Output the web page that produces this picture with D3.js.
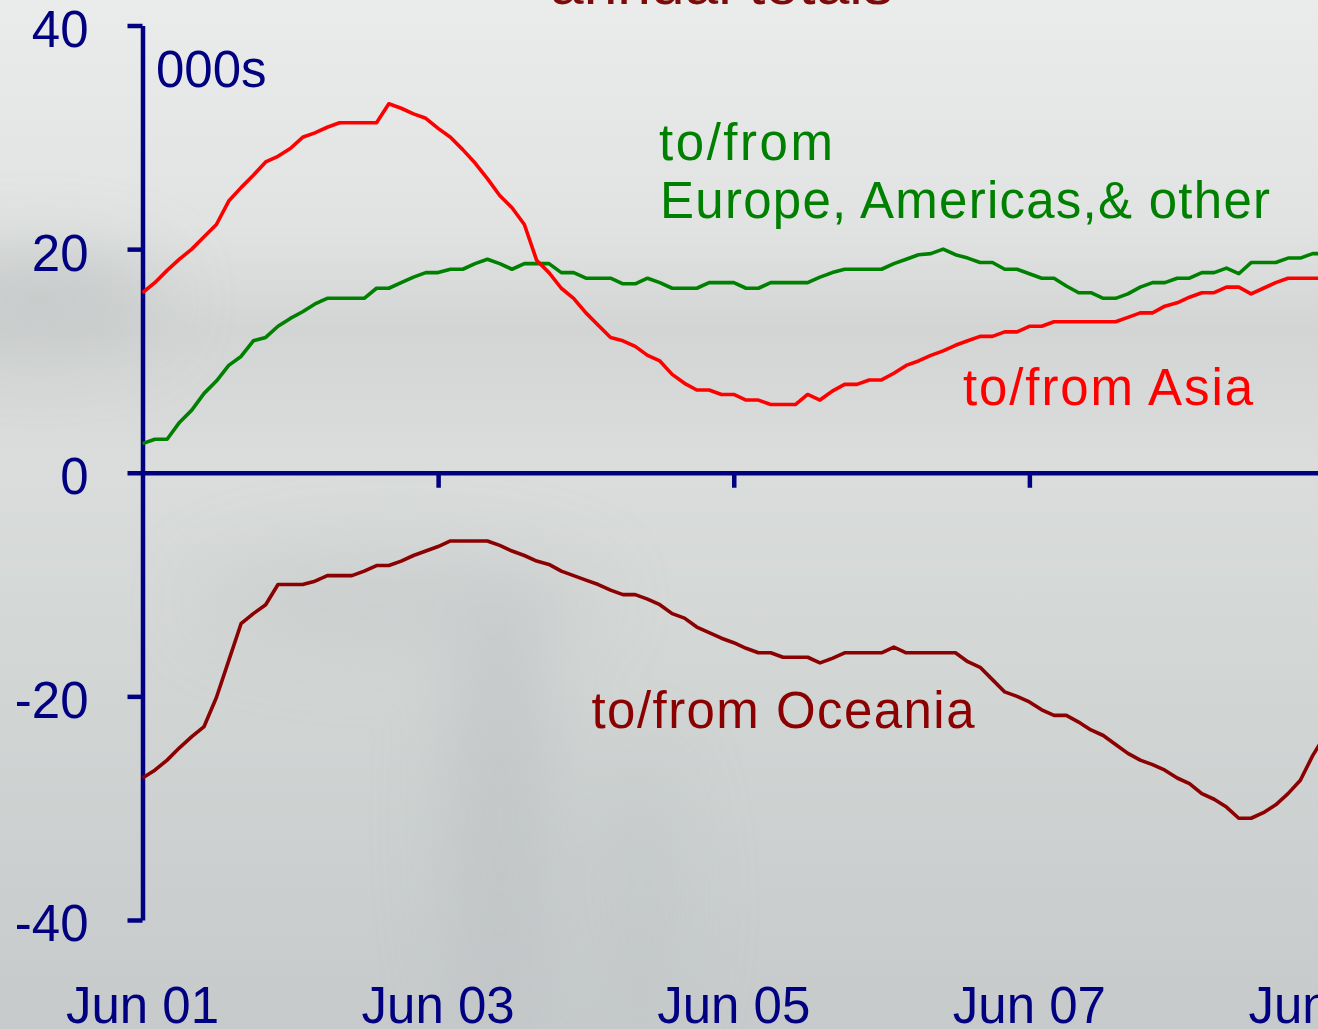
<!DOCTYPE html>
<html>
<head>
<meta charset="utf-8">
<script src="https://cdn.jsdelivr.net/npm/d3@7"></script>
<style>
  html, body { margin: 0; padding: 0; background: #dfe2e1; }
  svg { display: block; }
  text { font-family: "Liberation Sans", Arial, sans-serif; }
</style>
</head>
<body>
<svg id="chart" width="1318" height="1029"></svg>
<script>
// ---- data (thousands, annual totals, monthly from Jun 2001) ----
const asia = [16.1,17.0,18.1,19.1,20.0,21.1,22.2,24.3,25.5,26.6,27.8,28.3,29.0,30.0,30.4,30.9,31.3,31.3,31.3,31.3,
  33.0,32.6,32.1,31.7,30.8,30.0,28.9,27.7,26.3,24.8,23.7,22.2,19.0,17.9,16.5,15.6,14.3,13.2,12.1,11.8,
  11.3,10.5,10.0,8.8,8.0,7.4,7.4,7.0,7.0,6.5,6.5,6.1,6.1,6.1,7.0,6.5,7.3,7.9,7.9,8.3,
  8.3,8.9,9.6,10.0,10.5,10.9,11.4,11.8,12.2,12.2,12.6,12.6,13.1,13.1,13.5,13.5,13.5,13.5,13.5,13.5,
  13.9,14.3,14.3,14.9,15.2,15.7,16.1,16.1,16.6,16.6,16.0,16.5,17.0,17.4,17.4,17.4,17.4];
const europeAmericasOther = [2.6,3.0,3.0,4.5,5.6,7.1,8.2,9.6,10.4,11.8,12.1,13.1,13.8,14.4,15.1,15.6,15.6,15.6,15.6,16.5,
  16.5,17.0,17.5,17.9,17.9,18.2,18.2,18.7,19.1,18.7,18.2,18.7,18.7,18.7,17.9,17.9,17.4,17.4,17.4,16.9,
  16.9,17.4,17.0,16.5,16.5,16.5,17.0,17.0,17.0,16.5,16.5,17.0,17.0,17.0,17.0,17.5,17.9,18.2,18.2,18.2,
  18.2,18.7,19.1,19.5,19.6,20.0,19.5,19.2,18.8,18.8,18.2,18.2,17.8,17.4,17.4,16.7,16.1,16.1,15.6,15.6,
  16.0,16.6,17.0,17.0,17.4,17.4,17.9,17.9,18.3,17.8,18.8,18.8,18.8,19.2,19.2,19.6,19.6];
const oceania = [-27.3,-26.6,-25.7,-24.6,-23.6,-22.7,-20.1,-16.8,-13.5,-12.6,-11.8,-10.0,-10.0,-10.0,-9.7,-9.2,-9.2,-9.2,-8.8,-8.3,
  -8.3,-7.9,-7.4,-7.0,-6.6,-6.1,-6.1,-6.1,-6.1,-6.5,-7.0,-7.4,-7.9,-8.2,-8.8,-9.2,-9.6,-10.0,-10.5,-10.9,
  -10.9,-11.3,-11.8,-12.6,-13.0,-13.8,-14.3,-14.8,-15.2,-15.7,-16.1,-16.1,-16.5,-16.5,-16.5,-17.0,-16.6,-16.1,-16.1,-16.1,
  -16.1,-15.6,-16.1,-16.1,-16.1,-16.1,-16.1,-16.9,-17.4,-18.5,-19.6,-20.0,-20.5,-21.2,-21.7,-21.7,-22.3,-23.0,-23.5,-24.3,
  -25.1,-25.7,-26.1,-26.6,-27.3,-27.8,-28.7,-29.2,-29.9,-30.9,-30.9,-30.4,-29.7,-28.7,-27.5,-25.3,-23.5];
const xTickMonths = [0, 24, 48, 72, 96];
const xTickLabels = ["Jun 01", "Jun 03", "Jun 05", "Jun 07", "Jun 09"];
const yTickValues = [-40, -20, 0, 20, 40];
const yTickLabels = ["-40", "-20", "0", "20", "40"];
const seriesNames = ["to/from Asia", "to/from Oceania"];

// ---- layout ----
const svg = d3.select("#chart");
const W = 1318, H = 1029;
const navy = "#000080";
const font = 51;

// background
const defs = svg.append("defs");
const bg = defs.append("linearGradient").attr("id", "bg").attr("x1", 0).attr("y1", 0).attr("x2", 0).attr("y2", 1);
[[0, "#eaeceb"], [0.22, "#e0e3e2"], [0.32, "#d2d5d4"], [0.45, "#dadddc"], [0.7, "#d0d4d3"], [1, "#c6cacb"]]
  .forEach(([o, c]) => bg.append("stop").attr("offset", o).attr("stop-color", c));
svg.append("rect").attr("width", W).attr("height", H).attr("fill", "url(#bg)");
const blur = defs.append("filter").attr("id", "blur").attr("x", "-50%").attr("y", "-50%").attr("width", "200%").attr("height", "200%");
blur.append("feGaussianBlur").attr("stdDeviation", 35);
const shades = svg.append("g").attr("filter", "url(#blur)");
shades.append("ellipse").attr("cx", 40).attr("cy", 300).attr("rx", 120).attr("ry", 45).attr("fill", "#c3c6c6").attr("opacity", 0.8);
shades.append("ellipse").attr("cx", 500).attr("cy", 820).attr("rx", 50).attr("ry", 230).attr("fill", "#bcc0c1").attr("opacity", 0.6);
shades.append("ellipse").attr("cx", 640).attr("cy", 900).attr("rx", 40).attr("ry", 150).attr("fill", "#bfc3c4").attr("opacity", 0.5);
shades.append("ellipse").attr("cx", 400).attr("cy", 600).attr("rx", 200).attr("ry", 50).attr("fill", "#c4c8c7").attr("opacity", 0.5);

// scales
const x = d3.scaleLinear().domain([0, 96]).range([142.5, 1325]);
const y = d3.scaleLinear().domain([-40, 40]).range([920, 25.5]);

// y axis
const yAxis = svg.append("g").attr("transform", `translate(${x(0)},0)`)
  .call(d3.axisLeft(y).tickValues(yTickValues).tickSize(15).tickSizeOuter(0).tickPadding(39)
    .tickFormat((d, i) => yTickLabels[i]));
yAxis.select(".domain").attr("stroke", navy).attr("stroke-width", 4.5);
yAxis.selectAll(".tick line").attr("stroke", navy).attr("stroke-width", 4.5);
yAxis.selectAll(".tick text").attr("fill", navy).attr("font-size", font)
  .attr("font-family", "'Liberation Sans', Arial, sans-serif").attr("dy", "0.41em");

// x axis (zero line)
const xAxis = svg.append("g").attr("transform", `translate(0,${y(0)})`)
  .call(d3.axisBottom(x).tickValues(xTickMonths.slice(1)).tickSize(15).tickSizeOuter(0).tickFormat(""));
xAxis.select(".domain").attr("stroke", navy).attr("stroke-width", 4.5);
xAxis.selectAll(".tick line").attr("stroke", navy).attr("stroke-width", 4.5);

// x labels at the bottom
svg.append("g").selectAll("text").data(xTickMonths).join("text")
  .attr("x", d => x(d)).attr("y", 1023).attr("text-anchor", "middle")
  .attr("fill", navy).attr("font-size", font).text((d, i) => xTickLabels[i]);

// unit label
svg.append("text").attr("x", 156).attr("y", 87).attr("fill", navy).attr("font-size", font).text("000s");

// title (cut off at top)
svg.append("text").attr("x", 550).attr("y", 4).attr("fill", "#7d0a0a").attr("font-size", 58)
  .attr("textLength", 343).attr("lengthAdjust", "spacingAndGlyphs").text("annual totals");

// lines
const line = d3.line().x((d, i) => x(i)).y(d => y(d));
const series = [
  { values: europeAmericasOther, color: "#008000" },
  { values: asia, color: "#ff0000" },
  { values: oceania, color: "#8b0000" }
];
svg.append("g").selectAll("path").data(series).join("path")
  .attr("d", d => line(d.values)).attr("fill", "none")
  .attr("stroke", d => d.color).attr("stroke-width", 3.6)
  .attr("stroke-linejoin", "round").attr("stroke-linecap", "butt");

// series labels
const labels = [
  { t: "to/from", x: 659, y: 160, w: 174, c: "#008000" },
  { t: "Europe, Americas,& other", x: 660, y: 218, w: 610, c: "#008000" },
  { t: seriesNames[0], x: 963, y: 405, w: 290, c: "#ff0000" },
  { t: seriesNames[1], x: 591.5, y: 728, w: 383, c: "#8b0000" }
];
svg.append("g").selectAll("text").data(labels).join("text")
  .attr("x", d => d.x).attr("y", d => d.y).attr("fill", d => d.c).attr("font-size", font)
  .attr("textLength", d => d.w).attr("lengthAdjust", "spacing").text(d => d.t);
</script>
</body>
</html>
